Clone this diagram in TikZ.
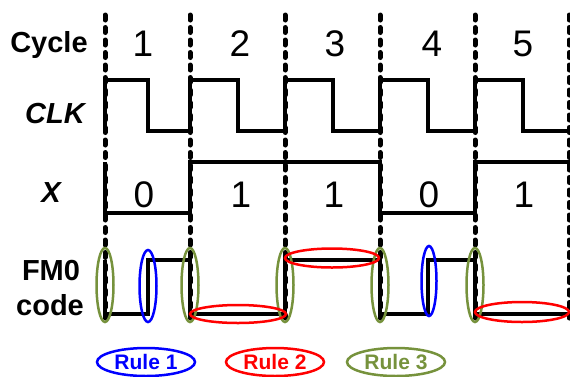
\documentclass[tikz,border=0pt]{standalone}
\usepackage{fontspec}
\setmainfont{Liberation Sans}
\usetikzlibrary{positioning,shapes.geometric}

\definecolor{ruleblue}{RGB}{0,0,255}
\definecolor{rulered}{RGB}{255,0,0}
\definecolor{rulegreen}{RGB}{118,146,60}

\tikzset{
  lbl/.style={anchor=base, font=\fontsize{29}{29}\selectfont\bfseries},
  lblit/.style={lbl, font=\fontsize{29}{29}\selectfont\bfseries\itshape},
  digit/.style={anchor=base, font=\fontsize{37}{37}\selectfont},
  wave/.style={line width=4pt, line join=miter},
  cyc/.style={line width=5pt, dash pattern=on 5pt off 7.5pt, line cap=round},
  ring/.style={ellipse, draw, line width=2.5pt, inner sep=0pt},
  rulekey/.style={ring, minimum width=98pt, minimum height=28pt,
    font=\fontsize{21}{21}\selectfont\bfseries},
}

\begin{document}
\begin{tikzpicture}[x=1pt,y=-1pt]
  \useasboundingbox (0,0) rectangle (570,376);

  %  Define nodes
  \node[lbl] (cycle) at (49,52) {Cycle};
  \node[lblit] (clk) at (55,123) {CLK};
  \node[lblit] (xin) at (51,202) {X};
  \node[lbl] (fmzero) at (51,280) {FM0};
  \node[lbl] (code) at (50,315) {code};

  \foreach \n/\x in {1/143,2/240,3/335,4/432,5/523}
    \node[digit] (c\n) at (\x,56) {\n};
  \foreach \n/\x/\v in {1/144/0,2/241/1,3/334/1,4/429/0,5/524/1}
    \node[digit] (x\n) at (\x,207) {\v};

  % Cycle borders
  \foreach \i/\x in {0/105,1/190,2/285,3/380,4/475,5/569}{
    \coordinate (top\i) at (\x,15);
    \coordinate (bot\i) at (\x,318);
    \draw[cyc] (top\i) -- (bot\i);
  }

  % Waveforms
  \draw[wave] (105,131) -- (105,80) -- (148,80) -- (148,131) -- (190,131)
    -- (190,80) -- (238,80) -- (238,131) -- (285,131) -- (285,80) -- (333,80)
    -- (333,131) -- (380,131) -- (380,80) -- (428,80) -- (428,131)
    -- (475,131) -- (475,80) -- (523,80) -- (523,131) -- (574,131);
  \draw[wave] (105,162) -- (105,213) -- (190,213) -- (190,162) -- (380,162)
    -- (380,213) -- (475,213) -- (475,162) -- (574,162);
  \draw[wave] (105,260) -- (105,314) -- (148,314) -- (148,260) -- (190,260)
    -- (190,314) -- (285,314) -- (285,260) -- (380,260) -- (380,314)
    -- (428,314) -- (428,260) -- (475,260) -- (475,314) -- (574,314);

  % Rules
  \foreach \i/\x in {0/105,1/190,2/285,3/380,4/475}
    \node[ring, draw=rulegreen, minimum width=17pt, minimum height=74pt]
      (g\i) at (\x,285) {};
  \node[ring, draw=ruleblue, minimum width=17pt, minimum height=72pt] (b1) at (148,286) {};
  \node[ring, draw=ruleblue, minimum width=15pt, minimum height=70pt] (b2) at (429,281) {};
  \node[ring, draw=rulered, minimum width=96pt, minimum height=18pt] (r1) at (238,314) {};
  \node[ring, draw=rulered, minimum width=94pt, minimum height=19pt] (r2) at (332,258) {};
  \node[ring, draw=rulered, minimum width=94pt, minimum height=20pt] (r3) at (522,312) {};

  % Legend
  \node[rulekey, draw=ruleblue, text=ruleblue] (rule1) at (146,362) {Rule 1};
  \node[rulekey, draw=rulered, text=rulered] (rule2) at (275,362) {Rule 2};
  \node[rulekey, draw=rulegreen, text=rulegreen] (rule3) at (396,362) {Rule 3};

\end{tikzpicture}
\end{document}
